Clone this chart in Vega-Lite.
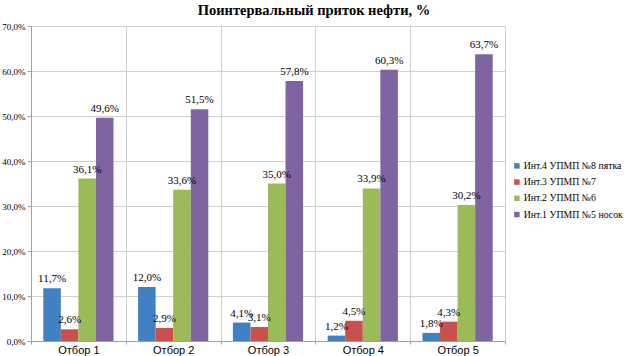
{
  "$schema": "https://vega.github.io/schema/vega-lite/v6.json",
  "width": 474,
  "height": 315,
  "autosize": {"type": "none"},
  "padding": {"left": 31, "top": 26, "right": 119, "bottom": 15},
  "background": "white",
  "title": {
    "text": "Поинтервальный приток нефти, %",
    "font": "Liberation Serif",
    "fontSize": 14.5,
    "fontWeight": "bold",
    "color": "#000000",
    "anchor": "middle",
    "dx": 46,
    "offset": 4
  },
  "data": {
    "values": [
      {"cat": "Отбор 1", "series": "Инт.4 УПМП №8 пятка", "v": 0.117},
      {"cat": "Отбор 1", "series": "Инт.3 УПМП №7", "v": 0.026},
      {"cat": "Отбор 1", "series": "Инт.2 УПМП №6", "v": 0.361},
      {"cat": "Отбор 1", "series": "Инт.1 УПМП №5 носок", "v": 0.496},
      {"cat": "Отбор 2", "series": "Инт.4 УПМП №8 пятка", "v": 0.120},
      {"cat": "Отбор 2", "series": "Инт.3 УПМП №7", "v": 0.029},
      {"cat": "Отбор 2", "series": "Инт.2 УПМП №6", "v": 0.336},
      {"cat": "Отбор 2", "series": "Инт.1 УПМП №5 носок", "v": 0.515},
      {"cat": "Отбор 3", "series": "Инт.4 УПМП №8 пятка", "v": 0.041},
      {"cat": "Отбор 3", "series": "Инт.3 УПМП №7", "v": 0.031},
      {"cat": "Отбор 3", "series": "Инт.2 УПМП №6", "v": 0.350},
      {"cat": "Отбор 3", "series": "Инт.1 УПМП №5 носок", "v": 0.578},
      {"cat": "Отбор 4", "series": "Инт.4 УПМП №8 пятка", "v": 0.012},
      {"cat": "Отбор 4", "series": "Инт.3 УПМП №7", "v": 0.045},
      {"cat": "Отбор 4", "series": "Инт.2 УПМП №6", "v": 0.339},
      {"cat": "Отбор 4", "series": "Инт.1 УПМП №5 носок", "v": 0.603},
      {"cat": "Отбор 5", "series": "Инт.4 УПМП №8 пятка", "v": 0.018},
      {"cat": "Отбор 5", "series": "Инт.3 УПМП №7", "v": 0.043},
      {"cat": "Отбор 5", "series": "Инт.2 УПМП №6", "v": 0.302},
      {"cat": "Отбор 5", "series": "Инт.1 УПМП №5 носок", "v": 0.637}
    ]
  },
  "encoding": {
    "x": {
      "field": "cat",
      "type": "nominal",
      "title": null,
      "scale": {"paddingInner": 0, "paddingOuter": 0},
      "axis": {
        "labelAngle": 0,
        "labelFont": "Liberation Sans",
        "labelFontSize": 11,
        "labelColor": "#000000",
        "labelPadding": 0,
        "tickBand": "extent",
        "grid": true,
        "gridColor": "#d0d0d0",
        "domainColor": "#a0a0a0",
        "tickColor": "#a0a0a0",
        "tickSize": 3
      }
    },
    "xOffset": {
      "field": "series",
      "type": "nominal",
      "sort": ["Инт.4 УПМП №8 пятка", "Инт.3 УПМП №7", "Инт.2 УПМП №6", "Инт.1 УПМП №5 носок"],
      "scale": {"paddingInner": 0, "paddingOuter": 0.7}
    },
    "y": {
      "field": "v",
      "type": "quantitative",
      "title": null,
      "scale": {"domain": [0, 0.7], "nice": false},
      "axis": {
        "values": [0, 0.1, 0.2, 0.3, 0.4, 0.5, 0.6, 0.7],
        "format": ".1%",
        "labelFont": "Liberation Serif",
        "labelFontSize": 9,
        "labelColor": "#000000",
        "gridColor": "#d0d0d0",
        "domainColor": "#a0a0a0",
        "tickColor": "#a0a0a0",
        "tickSize": 4,
        "labelPadding": 2
      }
    }
  },
  "layer": [
    {
      "mark": {"type": "bar"},
      "encoding": {
        "color": {
          "field": "series",
          "type": "nominal",
          "sort": ["Инт.4 УПМП №8 пятка", "Инт.3 УПМП №7", "Инт.2 УПМП №6", "Инт.1 УПМП №5 носок"],
          "scale": {
            "domain": ["Инт.4 УПМП №8 пятка", "Инт.3 УПМП №7", "Инт.2 УПМП №6", "Инт.1 УПМП №5 носок"],
            "range": ["#4180c2", "#c9504d", "#9bbb59", "#8064a2"]
          },
          "legend": {
            "title": null,
            "orient": "none",
            "legendX": 481,
            "legendY": 135,
            "symbolType": "square",
            "symbolSize": 30,
            "symbolStrokeWidth": 0,
            "labelFont": "Liberation Serif",
            "labelFontSize": 9.8,
            "labelColor": "#000000",
            "rowPadding": 5.2,
            "labelOffset": 2,
            "labelLimit": 200
          }
        }
      }
    },
    {
      "mark": {"type": "text", "baseline": "bottom", "dy": -4, "font": "Liberation Serif", "fontSize": 11, "color": "#000000"},
      "encoding": {
        "text": {"field": "v", "type": "quantitative", "format": ".1%"}
      }
    }
  ],
  "config": {
    "font": "Liberation Serif",
    "view": {"stroke": null},
    "locale": {
      "number": {"decimal": ",", "thousands": " ", "grouping": [3], "currency": ["", ""]}
    }
  }
}
